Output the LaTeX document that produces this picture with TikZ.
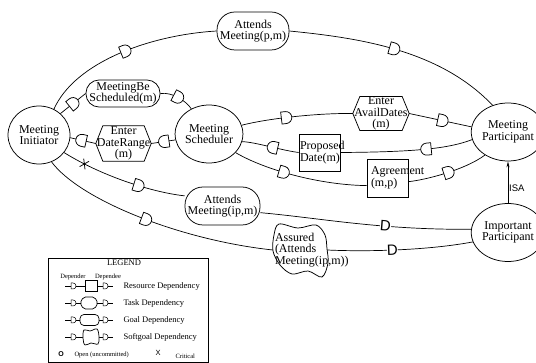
\documentclass[tikz,border=0pt]{standalone}
\usepackage{fontspec}
\setmainfont{Liberation Serif}
\setsansfont{Liberation Sans}
\usetikzlibrary{shapes.geometric,decorations.markings,arrows.meta,calc}

\tikzset{
  nfont/.style={font=\fontsize{12}{11.5}\selectfont},
  actor/.style={ellipse, draw, line width=0.75pt, minimum width=62pt, minimum height=58pt, inner sep=0pt, nfont, align=center},
  goalnode/.style={rectangle, rounded corners=#1, draw, line width=0.75pt, inner sep=0pt, nfont, align=center},
  tasknode/.style={rectangle, inner sep=0pt, nfont, align=center},
  resnode/.style={rectangle, draw, line width=0.75pt, inner ysep=0pt, nfont, align=left},
  softnode/.style={rectangle, inner sep=0pt, nfont, align=left},
  outline/.style={line width=0.75pt},
  dep/.style={line width=0.7pt},
  dmark/.style={postaction={decorate, decoration={markings, mark=at position #1 with {\draw[fill=white, line width=0.75pt] (-4.5pt,-6pt) -- (0pt,-6pt) arc[start angle=-90, end angle=90, radius=6pt] -- (-4.5pt,6pt) -- cycle;}}}},
  xmark/.style={postaction={decorate, decoration={markings, mark=at position #1 with {\draw[line width=0.75pt] (-3pt,-4.5pt) -- (3pt,4.5pt) (-3pt,4.5pt) -- (3pt,-4.5pt);}}}},
  bigD/.style={font=\sffamily\fontsize{15}{15}\selectfont, fill=white, inner sep=0pt, sloped},
  legfont/.style={font=\fontsize{8.5}{9}\selectfont},
  smallD/.pic={\draw[fill=white, line width=0.5pt] (-2pt,-3pt) -- (0pt,-3pt) arc[start angle=-90, end angle=90, radius=3pt] -- (-2pt,3pt) -- cycle;},
}

\begin{document}
\begin{tikzpicture}[x=1pt, y=-1pt]
\useasboundingbox (0,0) rectangle (536,363);

% actors
\node[actor] (MI) at (39,135) {Meeting\\Initiator};
\node[actor] (MS) at (209,134) {Meeting\\Scheduler};
\node[actor] (MP) at (508,132) {Meeting\\Participant};
\node[actor] (IP) at (508,232.5) {Important\\Participant};

% goals
\node[goalnode=18pt, minimum width=72pt, minimum height=38pt] (AMpm) at (253,31) {Attends\\Meeting(p,m)};
\node[goalnode=13pt, minimum width=74pt, minimum height=27pt] (MBS) at (123,93.5) {MeetingBe\\Scheduled(m)};
\node[goalnode=18pt, minimum width=75pt, minimum height=38pt] (AMip) at (222.5,206) {Attends\\Meeting(ip,m)};

% tasks (hexagons)
\node[tasknode, minimum width=55pt, minimum height=35pt] (DR) at (123.5,143.5) {Enter\\DateRange\\(m)};
\draw[outline] (DR.west) -- ([xshift=7pt]DR.north west) -- ([xshift=-7pt]DR.north east) -- (DR.east) -- ([xshift=-7pt]DR.south east) -- ([xshift=7pt]DR.south west) -- cycle;
\node[tasknode, minimum width=56pt, minimum height=33pt] (EAD) at (381,113.5) {Enter\\AvailDates\\(m)};
\draw[outline] (EAD.west) -- ([xshift=7pt]EAD.north west) -- ([xshift=-7pt]EAD.north east) -- (EAD.east) -- ([xshift=-7pt]EAD.south east) -- ([xshift=7pt]EAD.south west) -- cycle;

% resources
\node[resnode, text width=39pt, inner xsep=1pt, minimum height=37pt] (PD) at (319.5,152.5) {Proposed\\Date(m)};
\node[resnode, text width=33pt, inner xsep=4pt, minimum height=38pt] (AG) at (387.5,178) {Agreement\\(m,p)};

% softgoal
\node[softnode, text width=50pt, minimum width=54pt, minimum height=50pt] (AS) at (300,250) {Assured\\(Attends\\Meeting(ip,m))};
\draw[outline, shift={(AS.center)}] plot[smooth cycle, tension=0.55] coordinates {(-21,-26) (-2,-22) (16,-25) (25,-15) (27,-1) (28,13) (22,27) (8,21) (-8,24) (-20,15) (-27,1) (-26,-15)};

% dependencies
\draw[dep, dmark=0.5] (MI.60) .. controls (75,62) and (150,35) .. (AMpm.west);
\draw[dep, dmark=0.48] (AMpm.east) .. controls (360,38) and (440,50) .. (MP.120);

\draw[dep, dmark=0.5] (MI.45) -- (MBS.west);
\draw[dep, dmark=0.5] (MBS.east) .. controls (172,92) and (185,100) .. (MS.125);

\draw[dep, dmark=0.45] (MS.190) -- (DR.east);
\draw[dep, dmark=0.55] (DR.west) -- (MI.355);

\draw[dep, dmark=0.4] (MS.15) .. controls (270,118) and (320,113) .. (EAD.west);
\draw[dep, dmark=0.53] (EAD.east) -- (MP.172);

\draw[dep, dmark=0.35] (MP.192) .. controls (450,148) and (420,152) .. (PD.east);
\draw[dep, dmark=0.45] (PD.west) .. controls (280,150) and (255,142) .. (MS.-13);

\draw[dep, dmark=0.38] (MS.-35) .. controls (265,170) and (320,185) .. (AG.200);
\draw[dep, dmark=0.5] (AG.-10) .. controls (425,180) and (465,170) .. (MP.225);

\draw[dep, xmark=0.18, dmark=0.63] (MI.-35) .. controls (100,175) and (150,192) .. (AMip.165);
\draw[dep] (AMip.-10) .. controls (320,218) and (380,230) .. (IP.175) node[bigD, pos=0.65] (d1) {D};

\draw[dep, dmark=0.46] (MI.-65) .. controls (80,200) and (180,240) .. (AS.west);
\draw[dep] (AS.east) .. controls (370,252) and (430,250) .. (IP.195) node[bigD, pos=0.45] (d2) {D};

% ISA
\draw[line width=0.75pt, -{Stealth[length=6pt, width=3pt]}] (IP.north) -- (MP.south);
\node[font=\sffamily\fontsize{9.5}{10}\selectfont, anchor=west, inner sep=1pt] (isa) at (508,188) {ISA};

% legend
\draw[line width=0.75pt] (48,258) rectangle (208,362);
\node[legfont] (lt) at (124,263) {LEGEND};
\node[font=\fontsize{6.5}{7}\selectfont] (ldr) at (73,277) {Depender};
\node[font=\fontsize{6.5}{7}\selectfont] (lde) at (108,277) {Dependee};

\foreach \yy in {286,303,320,337} {
  \draw[line width=0.6pt] (65,\yy) -- (113,\yy);
  \pic at (73,\yy) {smallD};
  \pic at (105,\yy) {smallD};
}
\draw[line width=0.7pt, fill=white] (85,280.5) rectangle (97,291.5);
\draw[line width=0.7pt, fill=white, rounded corners=2pt] (80,303) -- (83.5,297) -- (94.5,297) -- (98,303) -- (94.5,309) -- (83.5,309) -- cycle;
\draw[line width=0.7pt, fill=white, rounded corners=4pt] (80,314.5) rectangle (99,325.5);
\draw[line width=0.7pt, fill=white] plot[smooth cycle, tension=0.6] coordinates {(84,330) (90,331) (97,329) (99,337) (98,344) (91,343) (85,345) (83,338)};

\node[legfont, anchor=west] (l1) at (120,286) {Resource Dependency};
\node[legfont, anchor=west] (l2) at (120,303) {Task Dependency};
\node[legfont, anchor=west] (l3) at (120,320) {Goal Dependency};
\node[legfont, anchor=west] (l4) at (120,337) {Softgoal Dependency};

\node[font=\sffamily\bfseries\fontsize{7}{8}\selectfont] (lo) at (61,354) {O};
\node[font=\fontsize{6.5}{7}\selectfont, anchor=west] (lot) at (71,355) {Open (uncommitted)};
\node[font=\sffamily\fontsize{7.5}{8}\selectfont] (lx) at (158,353) {X};
\node[font=\fontsize{6.5}{7}\selectfont, anchor=west] (lxt) at (172,356) {Critical};
\end{tikzpicture}
\end{document}
